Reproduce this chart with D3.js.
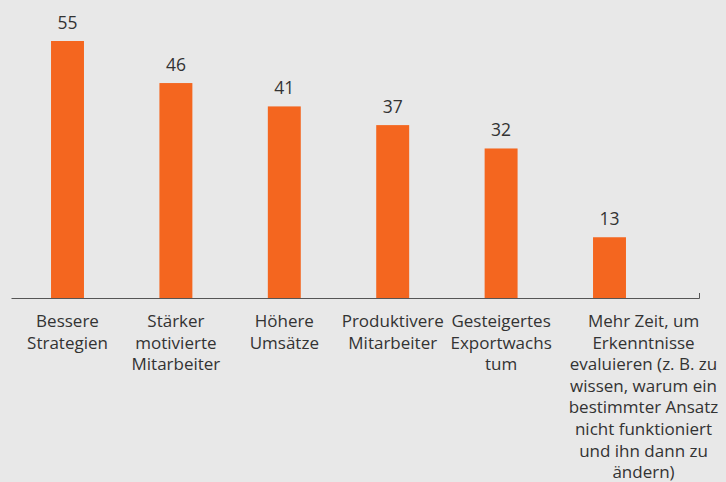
<!DOCTYPE html>
<html>
<head>
<meta charset="utf-8">
<script src="https://cdn.jsdelivr.net/npm/d3@7"></script>
<style>
  html, body { margin: 0; padding: 0; background: #e8e8e8; }
  svg { display: block; }
  text { font-variant-ligatures: none; }
</style>
</head>
<body>
<svg id="chart" width="726" height="482"></svg>
<script>
// Categories (each split into its displayed lines) and their percentages
const categories = [
  "Bessere Strategien",
  "Stärker motivierte Mitarbeiter",
  "Höhere Umsätze",
  "Produktivere Mitarbeiter",
  "Gesteigertes Exportwachstum",
  "Mehr Zeit, um Erkenntnisse evaluieren"
];
const labelLines = [
  ["Bessere", "Strategien"],
  ["Stärker", "motivierte", "Mitarbeiter"],
  ["Höhere", "Umsätze"],
  ["Produktivere", "Mitarbeiter"],
  ["Gesteigertes", "Exportwachs", "tum"],
  ["Mehr Zeit, um", "Erkenntnisse", "evaluieren (z. B. zu", "wissen, warum ein",
   "bestimmter Ansatz", "nicht funktioniert", "und ihn dann zu", "ändern)"]
];
const values = [55, 46, 41, 37, 32, 13];

const W = 726, H = 482;
const baseY = 298;
const orange = "#f4661f";
const textColor = "#333333";
const fontFamily = "'Open Sans', sans-serif";

const svg = d3.select("#chart");
svg.append("rect").attr("width", W).attr("height", H).attr("fill", "#e8e8e8");

const x = d3.scaleBand()
  .domain(categories)
  .range([13.3, 663.7])
  .paddingInner(0.696)
  .paddingOuter(0.348);

const y = d3.scaleLinear().domain([0, 55]).range([baseY, 41]);

// Bars
svg.append("g").selectAll("rect")
  .data(values)
  .join("rect")
  .attr("x", (d, i) => x(categories[i]))
  .attr("y", d => y(d))
  .attr("width", x.bandwidth())
  .attr("height", d => baseY - y(d))
  .attr("fill", orange);

// Value labels above the bars
svg.append("g").selectAll("text")
  .data(values)
  .join("text")
  .attr("x", (d, i) => x(categories[i]) + x.bandwidth() / 2)
  .attr("y", d => y(d) - 12)
  .attr("text-anchor", "middle")
  .attr("font-family", fontFamily)
  .attr("font-size", 17.5)
  .attr("fill", textColor)
  .text(d => d);

// Baseline with a small closing tick at its right end
svg.append("path")
  .attr("d", `M11.5,${baseY + 0.5}H699.5V${baseY - 5}`)
  .attr("fill", "none")
  .attr("stroke", "#555")
  .attr("stroke-width", 1);

// Category labels, wrapped into lines; the long last label sits in a wider box
const lineH = 21.6;
const labels = svg.append("g").selectAll("text")
  .data(categories)
  .join("text")
  .attr("text-anchor", "middle")
  .attr("font-family", fontFamily)
  .attr("font-size", 17)
  .attr("fill", textColor)
  .attr("transform", (d, i) => {
    let cx = x(d) + x.bandwidth() / 2;
    if (i === categories.length - 1) cx += 34;
    return `translate(${cx},${327})`;
  });

labels.each(function(d, i) {
  d3.select(this).selectAll("tspan")
    .data(labelLines[i])
    .join("tspan")
    .attr("x", 0)
    .attr("y", (t, j) => j * lineH)
    .text(t => t);
});
</script>
</body>
</html>
